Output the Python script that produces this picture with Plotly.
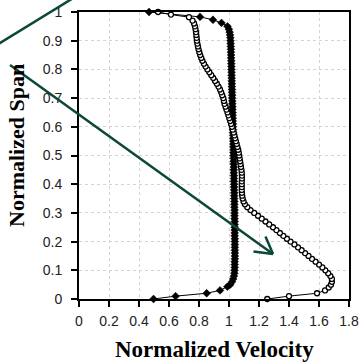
import plotly.graph_objects as go

# ---- data ----
filled_span = [0.0, 0.01, 0.02, 0.03, 0.043,
               0.05, 0.06, 0.07, 0.08, 0.09, 0.10, 0.11, 0.12, 0.13, 0.14,
               0.15, 0.16, 0.17, 0.18, 0.19, 0.20, 0.21, 0.22, 0.23, 0.24,
               0.25, 0.26, 0.27, 0.28, 0.29, 0.30, 0.31, 0.32, 0.33, 0.34,
               0.35, 0.36, 0.37, 0.38, 0.39, 0.40, 0.41, 0.42, 0.43, 0.44,
               0.45, 0.46, 0.47, 0.48, 0.49, 0.50, 0.51, 0.52, 0.53, 0.54,
               0.55, 0.56, 0.57, 0.58, 0.59, 0.60, 0.61, 0.62, 0.63, 0.64,
               0.65, 0.66, 0.67, 0.68, 0.69, 0.70, 0.71, 0.72, 0.73, 0.74,
               0.75, 0.76, 0.77, 0.78, 0.79, 0.80, 0.81, 0.82, 0.83, 0.84,
               0.85, 0.86, 0.87, 0.88, 0.89, 0.90, 0.91, 0.92, 0.93, 0.94,
               0.95, 0.962, 0.973, 0.983, 1.0]
filled_vel = [0.497, 0.644, 0.851, 0.940, 0.989,
              1.008, 1.020, 1.028, 1.033, 1.036, 1.037, 1.038, 1.038, 1.038, 1.039,
              1.039, 1.039, 1.039, 1.039, 1.039, 1.039, 1.039, 1.038, 1.038, 1.038,
              1.038, 1.038, 1.038, 1.037, 1.037, 1.037, 1.037, 1.036, 1.036, 1.036,
              1.035, 1.035, 1.035, 1.034, 1.034, 1.034, 1.033, 1.033, 1.033, 1.032,
              1.032, 1.032, 1.031, 1.031, 1.031, 1.030, 1.030, 1.030, 1.029, 1.029,
              1.029, 1.028, 1.028, 1.027, 1.027, 1.026, 1.026, 1.025, 1.025, 1.024,
              1.024, 1.023, 1.023, 1.022, 1.022, 1.021, 1.021, 1.020, 1.020, 1.019,
              1.019, 1.018, 1.018, 1.017, 1.017, 1.016, 1.016, 1.015, 1.015, 1.014,
              1.014, 1.013, 1.013, 1.012, 1.011, 1.010, 1.009, 1.007, 1.004, 0.999,
              0.990, 0.950, 0.893, 0.807, 0.467]

open_span = [0.0, 0.01, 0.02,
             0.03, 0.04, 0.05, 0.06, 0.07, 0.08, 0.09, 0.10, 0.11, 0.12,
             0.13, 0.14, 0.15, 0.16, 0.17, 0.18, 0.19, 0.20, 0.21, 0.22,
             0.23, 0.24, 0.25, 0.26, 0.27, 0.28, 0.29, 0.30, 0.31, 0.32,
             0.33, 0.34, 0.35, 0.36, 0.37, 0.38, 0.39, 0.40, 0.41, 0.42,
             0.43, 0.44, 0.45, 0.46, 0.47, 0.48, 0.49, 0.50, 0.51, 0.52,
             0.53, 0.54, 0.55, 0.56, 0.57, 0.58, 0.59, 0.60, 0.61, 0.62,
             0.63, 0.64, 0.65, 0.66, 0.67, 0.68, 0.69, 0.70, 0.71, 0.72,
             0.73, 0.74, 0.75, 0.76, 0.77, 0.78, 0.79, 0.80, 0.81, 0.82,
             0.83, 0.84, 0.85, 0.86, 0.87, 0.88, 0.89, 0.90, 0.91, 0.92,
             0.93, 0.94, 0.95, 0.96, 0.97, 0.982, 0.991, 1.0]
open_vel = [1.255, 1.400, 1.587,
            1.640, 1.665, 1.680, 1.686, 1.686, 1.676, 1.661, 1.642, 1.622, 1.600,
            1.577, 1.553, 1.530, 1.507, 1.484, 1.460, 1.436, 1.410, 1.386, 1.362,
            1.339, 1.316, 1.293, 1.268, 1.243, 1.218, 1.193, 1.168, 1.143, 1.122,
            1.106, 1.097, 1.091, 1.088, 1.086, 1.085, 1.085, 1.085, 1.085, 1.086,
            1.086, 1.085, 1.083, 1.080, 1.077, 1.074, 1.071, 1.068, 1.065, 1.061,
            1.056, 1.051, 1.046, 1.041, 1.036, 1.031, 1.025, 1.020, 1.014, 1.008,
            1.002, 0.996, 0.990, 0.983, 0.977, 0.970, 0.966, 0.962, 0.955, 0.948,
            0.940, 0.930, 0.919, 0.907, 0.895, 0.882, 0.869, 0.856, 0.844, 0.833,
            0.823, 0.815, 0.808, 0.802, 0.797, 0.793, 0.789, 0.786, 0.784, 0.782,
            0.780, 0.777, 0.773, 0.767, 0.757, 0.733, 0.613, 0.527]

x_ticks = [0, 0.2, 0.4, 0.6, 0.8, 1, 1.2, 1.4, 1.6, 1.8]
x_tick_labels = ["0", "0.2", "0.4", "0.6", "0.8", "1", "1.2", "1.4", "1.6", "1.8"]
y_ticks = [0, 0.1, 0.2, 0.3, 0.4, 0.5, 0.6, 0.7, 0.8, 0.9, 1]
y_tick_labels = ["0", "0.1", "0.2", "0.3", "0.4", "0.5", "0.6", "0.7", "0.8", "0.9", "1"]

x_title = "Normalized Velocity"
y_title = "Normalized Span"

# ---- layout constants ----
W, H = 359, 363
ML, MR, MT, MB = 79, 10, 12, 64
PW, PH = W - ML - MR, H - MT - MB
ARROW = "rgb(12,72,58)"


def px2paper(px, py):
    return (px - ML) / PW, (H - MB - py) / PH


fig = go.Figure()
fig.add_trace(go.Scatter(
    x=filled_vel, y=filled_span, mode="lines+markers",
    line=dict(color="black", width=1),
    marker=dict(symbol="diamond", size=6, color="black",
                line=dict(color="black", width=0.5)),
    showlegend=False, cliponaxis=False))
fig.add_trace(go.Scatter(
    x=open_vel, y=open_span, mode="lines+markers",
    line=dict(color="black", width=1),
    marker=dict(symbol="circle", size=5, color="white",
                line=dict(color="black", width=1.3)),
    showlegend=False, cliponaxis=False))

axis_common = dict(
    showline=True, linecolor="black", linewidth=2, mirror=True,
    ticks="outside", ticklen=6, tickwidth=1.5, tickcolor="black",
    showgrid=True, gridcolor="#d4d4d4", gridwidth=1, griddash="3px,3px",
    zeroline=False, automargin=False,
    tickfont=dict(family="Liberation Sans, Arial", size=14, color="#222"),
)

fig.update_xaxes(range=[0, 1.8], tickvals=x_ticks, ticktext=x_tick_labels,
                 ticklabelstandoff=2, **axis_common)
fig.update_yaxes(range=[0, 1], tickvals=y_ticks, ticktext=y_tick_labels,
                 ticklabelstandoff=6, **axis_common)

tx, ty = px2paper(214, 349)
fig.add_annotation(text="<b>%s</b>" % x_title, xref="paper", yref="paper",
                   x=tx, y=ty, showarrow=False, xanchor="center", yanchor="middle",
                   font=dict(family="Liberation Serif, Times New Roman", size=23,
                             color="black"))
tx, ty = px2paper(16, 146)
fig.add_annotation(text="<b>%s</b>" % y_title, xref="paper", yref="paper",
                   x=tx, y=ty, showarrow=False, xanchor="center", yanchor="middle",
                   textangle=-90,
                   font=dict(family="Liberation Serif, Times New Roman", size=22,
                             color="black"))

# decorative arrows (overlay)
segs = [((-10, 49.1), (80, -6.1)),
        ((10, 65), (273, 254)),
        ((273, 254), (265.5, 236.5)),
        ((273, 254), (253.5, 251.5))]
for (a, b) in segs:
    x0, y0 = px2paper(*a)
    x1, y1 = px2paper(*b)
    fig.add_shape(type="line", xref="paper", yref="paper",
                  x0=x0, y0=y0, x1=x1, y1=y1,
                  line=dict(color=ARROW, width=2.5), layer="above")

fig.update_layout(width=W, height=H,
                  margin=dict(l=ML, r=MR, t=MT, b=MB, autoexpand=False),
                  paper_bgcolor="white", plot_bgcolor="white")

fig.write_html("out.html")
